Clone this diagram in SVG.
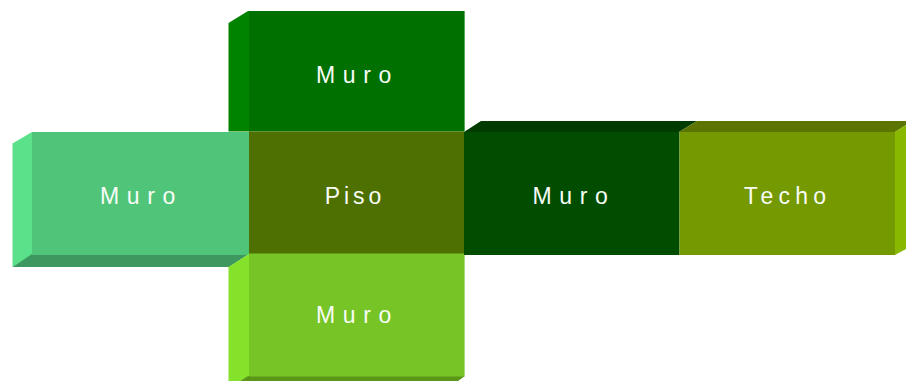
<svg xmlns="http://www.w3.org/2000/svg" width="906" height="381" viewBox="0 0 906 381">
<style>
text{font-family:"Liberation Sans",Arial,sans-serif;font-size:23px;fill:#f8fcf6;text-anchor:middle}
.m{letter-spacing:7.600px}
.p{letter-spacing:4px}
.t{letter-spacing:5.200px}
</style>
<rect width="906" height="381" fill="#fff"/>
<g id="muro-top">
<polygon points="228.500,23 248,11 250,11 250,131.500 228.500,131.500" fill="#008400"/>
<rect x="249" y="11" width="215" height="120.500" fill="#007000"/>
<rect x="464" y="11" width="1" height="120.500" fill="#5aa85a"/>
<text class="m" x="357.500" y="83">Muro</text>
</g>
<g id="muro-left">
<polygon points="12.500,143.500 32,132 34,132 34,255 32,255 12.500,267" fill="#5ae18a"/>
<polygon points="12.500,267 32,254 249,254 229,267" fill="#3d9860"/>
<rect x="32" y="132" width="217" height="123" fill="#50c57a"/>
<text class="m" x="141.500" y="204">Muro</text>
</g>
<g id="muro-bottom">
<polygon points="249,254 228.500,267 228.500,381 240,381 249,376" fill="#85e22b"/>
<polygon points="240,381 458,381 465,376 248,376" fill="#5a9618"/>
<rect x="249" y="253" width="215" height="123.500" fill="#76c425"/>
<rect x="464" y="255" width="1" height="121" fill="#a8dc78"/>
<text class="m" x="357.500" y="323">Muro</text>
</g>
<g id="muro-right">
<polygon points="464,132 481,121 697,121 679,132" fill="#003c00"/>
<rect x="464" y="132" width="215.500" height="123" fill="#004d00"/>
<text class="m" x="574" y="204">Muro</text>
</g>
<g id="techo">
<polygon points="679,132 697,121 906,121 906,125 895,132" fill="#5c7400"/>
<polygon points="895,132 906,125 906,249 895,255" fill="#89b800"/>
<rect x="679.500" y="132" width="215.500" height="123" fill="#759900"/>
<text class="t" x="787.500" y="204">Techo</text>
</g>
<g id="piso">
<rect x="249" y="131.500" width="215" height="122" fill="#4e7000"/>
<text class="p" x="355" y="204">Piso</text>
</g>
</svg>
